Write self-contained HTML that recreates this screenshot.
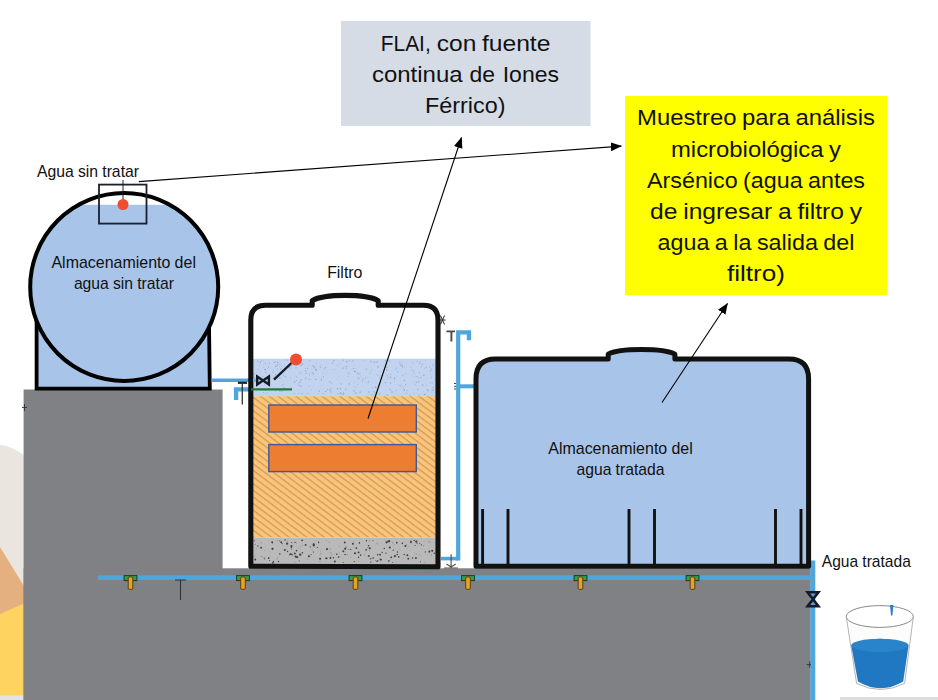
<!DOCTYPE html>
<html><head><meta charset="utf-8"><title>Diagrama</title>
<style>
html,body{margin:0;padding:0;background:#fff;}
body{width:938px;height:700px;overflow:hidden;font-family:"Liberation Sans",sans-serif;}
svg{display:block}
text{font-family:"Liberation Sans",sans-serif;fill:#111;}
</style></head><body>
<svg width="938" height="700" viewBox="0 0 938 700">
<defs>
<pattern id="hatch" width="5.3" height="5.3" patternUnits="userSpaceOnUse" patternTransform="rotate(37)">
<rect width="5.3" height="5.3" fill="#f9c47c"/><rect x="0" y="0" width="5.3" height="1.25" fill="#d39a50"/>
</pattern>
<marker id="ah" viewBox="0 0 10 8" refX="9.5" refY="4" markerWidth="11" markerHeight="9" markerUnits="userSpaceOnUse" orient="auto"><path d="M0,0 L10,4 L0,8 Z" fill="#000"/></marker>
<clipPath id="circ"><circle cx="124.2" cy="287" r="94"/></clipPath>
</defs>
<rect width="938" height="700" fill="#fff"/>

<!-- left decorative shapes -->
<g id="deco">
<path d="M0,444.7 Q12,446.2 24,455.3 L40,470 L40,630 L0,630 Z" fill="#ebe5df"/>
<polygon points="0,547 40,612.2 0,640" fill="#e5b07f"/>
<polygon points="0,614 40,596.4 40,700 0,700" fill="#ffd35f"/>
<rect x="0" y="695.5" width="30" height="5" fill="#e3e3e3"/>
<rect x="840" y="697" width="98" height="3" fill="#dcdcdc"/>
</g>

<!-- grey blocks -->
<g id="grey" fill="#808184">
<rect x="23.6" y="389.5" width="199" height="311"/>
<rect x="23.6" y="568.3" width="787" height="131.7"/>
</g>

<!-- raw water tank -->
<g id="rawtank">
<path d="M36.6,322 L36.6,388.6 L209.8,388.6 L209,322 Z" fill="#a9c4e9" stroke="#000" stroke-width="3.8" stroke-linejoin="miter"/>
<circle cx="124.2" cy="287" r="94" fill="#fff"/>
<rect x="20" y="204.8" width="210" height="200" fill="#a9c4e9" clip-path="url(#circ)"/>
<circle cx="124.2" cy="287" r="94" fill="none" stroke="#000" stroke-width="4"/>
<rect x="99" y="184.6" width="47.5" height="39" fill="none" stroke="#1b1f2e" stroke-width="1.8"/>
<line x1="123" y1="180" x2="123" y2="200" stroke="#222" stroke-width="1"/>
<circle cx="123" cy="204.5" r="5.5" fill="#f04e30"/>
</g>

<!-- pipes -->
<g id="pipes" fill="none" stroke="#4ea6dc">
<path d="M211.5,380.3 L258,380.3" stroke-width="3.4"/>
<path d="M236.1,400 L236.1,389.3 L252,389.3" stroke-width="4.3"/>
<path d="M441,558.6 L458,558.6" stroke-width="3.6"/>
<path d="M458.2,560.4 L458.2,332.3 L468.9,332.3 L468.9,340.3" stroke-width="4.2"/>
<path d="M458.2,386.3 L475,386.3" stroke-width="4"/>
<path d="M98,577.7 L813,577.7" stroke-width="4.8"/>
<path d="M812.8,560.6 L812.8,700" stroke-width="5"/>
</g>

<!-- filter tank -->
<g id="filter">
<rect x="252" y="358.7" width="186" height="38" fill="#c2d3ef"/>
<g fill="#8fa2c4" opacity="0.85"><circle cx="312.9" cy="365.3" r="0.61"/><circle cx="267.2" cy="378.8" r="0.50"/><circle cx="264.6" cy="377.8" r="0.36"/><circle cx="332.9" cy="362.4" r="0.39"/><circle cx="331.3" cy="388.9" r="0.40"/><circle cx="294.6" cy="382.0" r="0.73"/><circle cx="359.0" cy="373.9" r="0.74"/><circle cx="262.5" cy="390.0" r="0.47"/><circle cx="280.3" cy="364.1" r="0.47"/><circle cx="402.5" cy="366.3" r="0.58"/><circle cx="370.3" cy="373.0" r="0.57"/><circle cx="265.4" cy="362.1" r="0.43"/><circle cx="377.8" cy="375.0" r="0.48"/><circle cx="360.6" cy="375.9" r="0.47"/><circle cx="398.6" cy="384.5" r="0.45"/><circle cx="358.5" cy="378.4" r="0.70"/><circle cx="386.8" cy="370.1" r="0.74"/><circle cx="275.5" cy="374.6" r="0.65"/><circle cx="281.7" cy="377.1" r="0.37"/><circle cx="375.6" cy="386.8" r="0.58"/><circle cx="413.3" cy="371.0" r="0.63"/><circle cx="362.2" cy="380.3" r="0.53"/><circle cx="406.9" cy="393.1" r="0.54"/><circle cx="374.9" cy="362.1" r="0.63"/><circle cx="371.8" cy="394.8" r="0.68"/><circle cx="305.8" cy="373.5" r="0.62"/><circle cx="258.1" cy="376.2" r="0.42"/><circle cx="275.3" cy="362.1" r="0.66"/><circle cx="277.5" cy="368.7" r="0.51"/><circle cx="412.6" cy="362.8" r="0.53"/><circle cx="354.0" cy="390.9" r="0.68"/><circle cx="411.2" cy="369.7" r="0.52"/><circle cx="319.3" cy="390.9" r="0.73"/><circle cx="281.5" cy="366.2" r="0.44"/><circle cx="296.5" cy="377.0" r="0.59"/><circle cx="301.8" cy="360.1" r="0.52"/><circle cx="321.2" cy="379.8" r="0.73"/><circle cx="379.7" cy="378.0" r="0.60"/><circle cx="377.1" cy="361.9" r="0.71"/><circle cx="396.0" cy="390.6" r="0.67"/><circle cx="325.4" cy="374.0" r="0.39"/><circle cx="369.4" cy="362.2" r="0.38"/><circle cx="292.0" cy="365.7" r="0.49"/><circle cx="263.6" cy="360.0" r="0.41"/><circle cx="272.5" cy="372.7" r="0.36"/><circle cx="413.1" cy="381.5" r="0.41"/><circle cx="299.9" cy="372.2" r="0.50"/><circle cx="276.4" cy="389.7" r="0.75"/><circle cx="338.8" cy="376.9" r="0.38"/><circle cx="272.6" cy="372.0" r="0.46"/><circle cx="404.9" cy="365.7" r="0.36"/><circle cx="427.1" cy="378.5" r="0.41"/><circle cx="352.9" cy="360.9" r="0.56"/><circle cx="432.1" cy="390.2" r="0.63"/><circle cx="301.5" cy="372.8" r="0.42"/><circle cx="394.5" cy="378.6" r="0.66"/><circle cx="314.0" cy="367.8" r="0.67"/><circle cx="433.3" cy="389.8" r="0.67"/><circle cx="402.9" cy="385.9" r="0.44"/><circle cx="348.2" cy="372.4" r="0.36"/><circle cx="259.1" cy="369.8" r="0.45"/><circle cx="380.0" cy="393.5" r="0.53"/><circle cx="424.5" cy="394.6" r="0.73"/><circle cx="320.4" cy="367.7" r="0.44"/><circle cx="289.8" cy="367.2" r="0.60"/><circle cx="417.9" cy="389.4" r="0.54"/><circle cx="372.8" cy="388.0" r="0.38"/><circle cx="374.2" cy="391.8" r="0.66"/><circle cx="390.5" cy="376.7" r="0.42"/><circle cx="397.6" cy="371.6" r="0.67"/><circle cx="430.8" cy="373.9" r="0.51"/><circle cx="426.3" cy="385.4" r="0.42"/><circle cx="277.1" cy="365.3" r="0.71"/><circle cx="400.8" cy="365.1" r="0.68"/><circle cx="432.4" cy="383.0" r="0.49"/><circle cx="353.9" cy="364.6" r="0.36"/><circle cx="430.7" cy="382.7" r="0.56"/><circle cx="423.9" cy="375.2" r="0.70"/><circle cx="404.4" cy="367.4" r="0.45"/><circle cx="307.3" cy="368.4" r="0.58"/><circle cx="301.2" cy="374.7" r="0.40"/><circle cx="419.6" cy="372.4" r="0.53"/><circle cx="360.2" cy="391.7" r="0.52"/><circle cx="421.0" cy="377.6" r="0.56"/><circle cx="349.3" cy="360.7" r="0.53"/><circle cx="287.3" cy="360.1" r="0.67"/><circle cx="285.4" cy="376.6" r="0.64"/><circle cx="355.3" cy="371.4" r="0.56"/><circle cx="355.1" cy="387.4" r="0.39"/><circle cx="356.0" cy="368.7" r="0.46"/><circle cx="394.6" cy="377.8" r="0.57"/><circle cx="392.3" cy="391.9" r="0.53"/><circle cx="365.5" cy="377.7" r="0.55"/><circle cx="380.1" cy="375.8" r="0.56"/><circle cx="341.0" cy="393.0" r="0.63"/><circle cx="413.5" cy="393.0" r="0.45"/><circle cx="355.8" cy="393.0" r="0.69"/><circle cx="279.0" cy="364.3" r="0.53"/><circle cx="267.2" cy="368.4" r="0.38"/><circle cx="375.8" cy="387.4" r="0.71"/><circle cx="282.1" cy="385.1" r="0.61"/><circle cx="280.0" cy="390.9" r="0.74"/><circle cx="294.0" cy="393.3" r="0.51"/><circle cx="342.7" cy="394.6" r="0.68"/><circle cx="283.4" cy="375.1" r="0.56"/><circle cx="315.7" cy="366.9" r="0.48"/><circle cx="385.4" cy="360.7" r="0.57"/><circle cx="334.2" cy="360.6" r="0.48"/><circle cx="367.6" cy="377.9" r="0.38"/><circle cx="433.3" cy="387.6" r="0.74"/><circle cx="273.1" cy="369.3" r="0.37"/><circle cx="395.8" cy="369.5" r="0.40"/><circle cx="330.9" cy="391.9" r="0.68"/><circle cx="301.1" cy="365.2" r="0.72"/><circle cx="357.8" cy="384.5" r="0.39"/><circle cx="264.5" cy="384.1" r="0.52"/><circle cx="267.2" cy="392.8" r="0.60"/><circle cx="399.9" cy="362.9" r="0.69"/><circle cx="266.1" cy="390.2" r="0.53"/><circle cx="315.7" cy="379.4" r="0.72"/><circle cx="302.8" cy="364.5" r="0.56"/><circle cx="297.4" cy="363.8" r="0.41"/><circle cx="263.2" cy="367.1" r="0.47"/><circle cx="309.5" cy="386.6" r="0.47"/><circle cx="345.0" cy="366.2" r="0.49"/><circle cx="257.3" cy="368.8" r="0.36"/><circle cx="387.4" cy="379.3" r="0.43"/><circle cx="340.4" cy="392.7" r="0.39"/><circle cx="403.0" cy="375.1" r="0.55"/><circle cx="405.9" cy="373.8" r="0.55"/><circle cx="379.2" cy="394.4" r="0.49"/><circle cx="405.5" cy="384.7" r="0.60"/><circle cx="327.7" cy="372.2" r="0.37"/><circle cx="277.6" cy="362.5" r="0.65"/><circle cx="300.5" cy="365.7" r="0.38"/><circle cx="407.1" cy="390.5" r="0.62"/><circle cx="305.3" cy="368.5" r="0.47"/><circle cx="337.6" cy="365.5" r="0.53"/><circle cx="301.9" cy="393.7" r="0.74"/><circle cx="353.6" cy="368.6" r="0.74"/><circle cx="310.3" cy="372.5" r="0.35"/><circle cx="323.5" cy="376.6" r="0.55"/><circle cx="290.6" cy="377.7" r="0.35"/><circle cx="302.1" cy="363.1" r="0.51"/><circle cx="261.6" cy="360.8" r="0.47"/><circle cx="296.4" cy="380.5" r="0.56"/><circle cx="390.6" cy="383.0" r="0.64"/><circle cx="414.0" cy="373.6" r="0.48"/><circle cx="433.2" cy="365.2" r="0.64"/><circle cx="371.1" cy="361.5" r="0.68"/><circle cx="416.3" cy="382.0" r="0.64"/><circle cx="401.8" cy="364.9" r="0.56"/><circle cx="345.8" cy="389.2" r="0.67"/><circle cx="404.4" cy="380.4" r="0.71"/><circle cx="378.3" cy="384.3" r="0.44"/><circle cx="259.7" cy="364.7" r="0.49"/><circle cx="273.1" cy="389.3" r="0.57"/><circle cx="368.3" cy="381.9" r="0.62"/><circle cx="343.1" cy="360.1" r="0.67"/><circle cx="390.2" cy="377.6" r="0.56"/><circle cx="374.0" cy="362.3" r="0.64"/><circle cx="299.9" cy="362.6" r="0.46"/><circle cx="386.7" cy="367.2" r="0.65"/><circle cx="431.6" cy="377.3" r="0.50"/><circle cx="341.2" cy="383.9" r="0.66"/><circle cx="366.3" cy="382.5" r="0.38"/><circle cx="280.8" cy="368.9" r="0.65"/><circle cx="309.4" cy="379.9" r="0.35"/><circle cx="265.0" cy="369.4" r="0.62"/><circle cx="380.0" cy="383.6" r="0.47"/><circle cx="348.0" cy="376.3" r="0.54"/><circle cx="275.6" cy="391.3" r="0.43"/><circle cx="432.0" cy="392.8" r="0.36"/><circle cx="337.5" cy="388.7" r="0.74"/><circle cx="335.8" cy="369.4" r="0.43"/><circle cx="426.1" cy="367.4" r="0.58"/><circle cx="279.8" cy="378.3" r="0.73"/><circle cx="278.1" cy="388.7" r="0.55"/><circle cx="415.4" cy="384.6" r="0.44"/><circle cx="417.4" cy="377.0" r="0.36"/><circle cx="254.7" cy="377.2" r="0.53"/><circle cx="309.0" cy="364.9" r="0.49"/><circle cx="311.5" cy="389.4" r="0.35"/><circle cx="390.6" cy="389.4" r="0.40"/><circle cx="422.6" cy="385.0" r="0.71"/><circle cx="306.7" cy="373.0" r="0.51"/><circle cx="435.8" cy="380.6" r="0.49"/><circle cx="331.9" cy="369.6" r="0.37"/><circle cx="272.5" cy="389.2" r="0.46"/><circle cx="424.3" cy="368.7" r="0.46"/><circle cx="347.0" cy="366.6" r="0.50"/><circle cx="428.0" cy="390.9" r="0.67"/><circle cx="368.8" cy="392.0" r="0.73"/><circle cx="354.0" cy="385.2" r="0.37"/><circle cx="387.3" cy="375.8" r="0.65"/><circle cx="371.3" cy="370.0" r="0.37"/><circle cx="422.7" cy="364.5" r="0.54"/><circle cx="316.5" cy="370.4" r="0.65"/><circle cx="431.7" cy="369.1" r="0.61"/><circle cx="308.8" cy="379.5" r="0.51"/><circle cx="284.5" cy="365.7" r="0.43"/><circle cx="418.9" cy="377.4" r="0.44"/><circle cx="418.9" cy="394.9" r="0.53"/><circle cx="279.4" cy="366.7" r="0.39"/><circle cx="316.2" cy="363.2" r="0.45"/><circle cx="301.0" cy="379.9" r="0.70"/><circle cx="390.4" cy="374.4" r="0.52"/><circle cx="349.4" cy="373.2" r="0.49"/><circle cx="265.3" cy="369.7" r="0.74"/><circle cx="276.9" cy="377.6" r="0.60"/><circle cx="411.0" cy="367.6" r="0.46"/><circle cx="299.2" cy="374.0" r="0.53"/><circle cx="427.6" cy="389.7" r="0.70"/><circle cx="258.0" cy="361.1" r="0.63"/><circle cx="417.0" cy="376.6" r="0.58"/><circle cx="254.0" cy="373.7" r="0.72"/><circle cx="404.3" cy="389.9" r="0.74"/><circle cx="299.2" cy="363.8" r="0.41"/><circle cx="349.1" cy="383.9" r="0.73"/><circle cx="385.4" cy="382.7" r="0.66"/><circle cx="337.2" cy="379.3" r="0.37"/><circle cx="396.4" cy="368.1" r="0.72"/><circle cx="371.5" cy="370.6" r="0.40"/><circle cx="299.8" cy="382.3" r="0.63"/><circle cx="274.4" cy="362.5" r="0.56"/><circle cx="360.1" cy="373.6" r="0.44"/><circle cx="363.4" cy="360.4" r="0.47"/><circle cx="337.8" cy="393.6" r="0.61"/><circle cx="414.8" cy="376.6" r="0.44"/><circle cx="299.0" cy="393.6" r="0.63"/><circle cx="309.9" cy="360.8" r="0.55"/><circle cx="376.8" cy="374.7" r="0.45"/><circle cx="375.5" cy="392.4" r="0.44"/><circle cx="260.2" cy="371.8" r="0.52"/><circle cx="378.2" cy="366.9" r="0.67"/><circle cx="388.5" cy="377.7" r="0.43"/><circle cx="430.5" cy="370.9" r="0.68"/><circle cx="296.0" cy="367.8" r="0.65"/><circle cx="307.7" cy="393.3" r="0.55"/><circle cx="288.1" cy="367.8" r="0.52"/><circle cx="375.1" cy="393.2" r="0.41"/><circle cx="325.6" cy="367.5" r="0.74"/><circle cx="279.8" cy="361.8" r="0.37"/><circle cx="325.6" cy="391.4" r="0.70"/><circle cx="387.4" cy="394.9" r="0.72"/><circle cx="313.9" cy="366.5" r="0.72"/><circle cx="389.8" cy="361.1" r="0.62"/><circle cx="322.9" cy="373.1" r="0.48"/><circle cx="284.8" cy="360.1" r="0.46"/><circle cx="318.0" cy="393.4" r="0.40"/><circle cx="429.5" cy="367.3" r="0.49"/><circle cx="403.5" cy="388.8" r="0.52"/><circle cx="263.0" cy="376.6" r="0.50"/><circle cx="421.4" cy="366.8" r="0.50"/><circle cx="417.3" cy="361.1" r="0.51"/><circle cx="401.8" cy="386.8" r="0.37"/><circle cx="260.3" cy="362.2" r="0.72"/><circle cx="300.8" cy="386.2" r="0.71"/><circle cx="315.7" cy="369.5" r="0.73"/><circle cx="366.3" cy="369.2" r="0.64"/><circle cx="311.6" cy="369.6" r="0.35"/><circle cx="391.5" cy="392.1" r="0.60"/><circle cx="425.7" cy="360.8" r="0.44"/><circle cx="340.5" cy="393.5" r="0.73"/><circle cx="324.3" cy="368.8" r="0.52"/><circle cx="343.8" cy="392.5" r="0.42"/><circle cx="400.1" cy="385.8" r="0.68"/><circle cx="394.7" cy="381.3" r="0.48"/><circle cx="312.2" cy="372.7" r="0.66"/><circle cx="268.4" cy="366.9" r="0.65"/><circle cx="299.0" cy="362.3" r="0.36"/><circle cx="354.6" cy="371.4" r="0.74"/><circle cx="414.8" cy="394.6" r="0.46"/><circle cx="269.3" cy="363.4" r="0.55"/><circle cx="383.2" cy="375.6" r="0.44"/><circle cx="329.9" cy="381.7" r="0.62"/><circle cx="390.1" cy="389.6" r="0.62"/><circle cx="276.1" cy="389.4" r="0.47"/><circle cx="357.2" cy="373.1" r="0.65"/><circle cx="290.3" cy="368.7" r="0.45"/><circle cx="281.9" cy="390.9" r="0.58"/><circle cx="313.4" cy="373.9" r="0.75"/><circle cx="346.3" cy="368.1" r="0.67"/><circle cx="372.9" cy="394.7" r="0.39"/><circle cx="340.4" cy="388.7" r="0.69"/><circle cx="420.4" cy="361.4" r="0.47"/><circle cx="275.7" cy="366.6" r="0.74"/><circle cx="360.1" cy="392.6" r="0.50"/><circle cx="411.6" cy="375.7" r="0.45"/><circle cx="395.6" cy="393.1" r="0.39"/><circle cx="362.5" cy="381.7" r="0.44"/><circle cx="321.1" cy="364.9" r="0.43"/><circle cx="300.4" cy="381.0" r="0.61"/><circle cx="291.0" cy="360.4" r="0.48"/><circle cx="377.5" cy="366.5" r="0.47"/><circle cx="291.0" cy="387.8" r="0.57"/><circle cx="265.5" cy="363.5" r="0.51"/><circle cx="354.1" cy="382.4" r="0.39"/><circle cx="283.8" cy="384.3" r="0.51"/><circle cx="305.6" cy="370.8" r="0.73"/><circle cx="310.8" cy="379.8" r="0.49"/><circle cx="329.8" cy="390.2" r="0.75"/><circle cx="320.2" cy="366.9" r="0.64"/><circle cx="291.1" cy="360.2" r="0.71"/><circle cx="331.1" cy="388.7" r="0.51"/><circle cx="414.7" cy="376.1" r="0.42"/><circle cx="256.7" cy="379.3" r="0.61"/><circle cx="419.6" cy="363.1" r="0.60"/><circle cx="321.5" cy="377.7" r="0.41"/><circle cx="305.6" cy="378.2" r="0.72"/><circle cx="273.8" cy="377.2" r="0.67"/><circle cx="430.0" cy="366.9" r="0.40"/><circle cx="425.6" cy="394.1" r="0.54"/><circle cx="263.7" cy="392.4" r="0.51"/><circle cx="418.6" cy="381.7" r="0.68"/><circle cx="283.2" cy="387.5" r="0.44"/><circle cx="327.6" cy="389.6" r="0.68"/><circle cx="287.3" cy="367.6" r="0.51"/><circle cx="348.3" cy="373.4" r="0.40"/><circle cx="299.0" cy="385.4" r="0.71"/><circle cx="261.5" cy="379.7" r="0.65"/><circle cx="260.9" cy="389.3" r="0.40"/><circle cx="363.1" cy="379.3" r="0.60"/><circle cx="309.7" cy="374.7" r="0.58"/><circle cx="331.5" cy="383.1" r="0.53"/><circle cx="333.8" cy="360.8" r="0.60"/><circle cx="343.1" cy="368.2" r="0.66"/><circle cx="396.0" cy="376.0" r="0.42"/><circle cx="340.1" cy="363.7" r="0.40"/><circle cx="332.4" cy="363.2" r="0.53"/><circle cx="346.8" cy="361.4" r="0.60"/><circle cx="269.0" cy="385.7" r="0.66"/><circle cx="347.1" cy="361.9" r="0.55"/><circle cx="322.8" cy="393.3" r="0.40"/><circle cx="410.0" cy="394.9" r="0.64"/><circle cx="402.3" cy="366.8" r="0.74"/><circle cx="343.5" cy="393.5" r="0.72"/><circle cx="284.1" cy="387.6" r="0.72"/><circle cx="265.9" cy="372.3" r="0.65"/><circle cx="282.9" cy="391.4" r="0.46"/></g>
<rect x="252" y="396.3" width="186" height="141.2" fill="url(#hatch)"/>
<rect x="252" y="537.5" width="186" height="28" fill="#b9b9b9"/>
<g fill="#2c2c2c" opacity="0.85"><circle cx="402.4" cy="543.3" r="0.83"/><circle cx="421.4" cy="544.8" r="0.67"/><circle cx="346.1" cy="547.3" r="0.52"/><circle cx="287.1" cy="543.7" r="1.11"/><circle cx="377.7" cy="560.6" r="0.61"/><circle cx="396.8" cy="542.6" r="0.84"/><circle cx="369.8" cy="548.3" r="1.07"/><circle cx="355.0" cy="553.3" r="1.07"/><circle cx="273.0" cy="562.8" r="0.91"/><circle cx="325.8" cy="558.3" r="0.67"/><circle cx="434.3" cy="553.3" r="0.73"/><circle cx="393.2" cy="550.2" r="0.61"/><circle cx="389.3" cy="541.1" r="1.03"/><circle cx="300.2" cy="554.7" r="1.14"/><circle cx="360.6" cy="555.3" r="0.70"/><circle cx="254.3" cy="540.8" r="0.60"/><circle cx="366.1" cy="549.9" r="0.83"/><circle cx="417.0" cy="543.0" r="0.65"/><circle cx="372.9" cy="540.5" r="0.50"/><circle cx="318.6" cy="542.4" r="0.73"/><circle cx="294.8" cy="553.4" r="0.88"/><circle cx="291.2" cy="554.4" r="0.81"/><circle cx="278.5" cy="561.5" r="0.66"/><circle cx="281.2" cy="542.2" r="0.91"/><circle cx="412.6" cy="558.0" r="0.76"/><circle cx="302.1" cy="540.3" r="0.92"/><circle cx="356.3" cy="548.1" r="0.92"/><circle cx="334.8" cy="561.6" r="0.98"/><circle cx="299.2" cy="560.8" r="0.53"/><circle cx="350.7" cy="549.3" r="0.65"/><circle cx="264.6" cy="557.9" r="0.51"/><circle cx="354.3" cy="561.6" r="0.59"/><circle cx="290.3" cy="554.0" r="0.83"/><circle cx="370.8" cy="558.7" r="0.61"/><circle cx="310.3" cy="546.9" r="0.53"/><circle cx="415.9" cy="558.0" r="0.97"/><circle cx="255.2" cy="559.4" r="0.98"/><circle cx="338.7" cy="557.1" r="0.79"/><circle cx="295.1" cy="542.4" r="0.65"/><circle cx="261.1" cy="547.7" r="0.99"/><circle cx="380.5" cy="559.4" r="0.96"/><circle cx="302.4" cy="552.7" r="0.78"/><circle cx="397.5" cy="552.0" r="0.67"/><circle cx="370.8" cy="562.2" r="0.64"/><circle cx="414.2" cy="540.4" r="0.67"/><circle cx="297.0" cy="557.1" r="1.11"/><circle cx="389.8" cy="547.5" r="1.07"/><circle cx="313.8" cy="545.5" r="1.09"/><circle cx="368.8" cy="555.9" r="0.93"/><circle cx="432.2" cy="550.8" r="1.05"/><circle cx="381.0" cy="559.7" r="0.78"/><circle cx="385.9" cy="553.1" r="0.70"/><circle cx="292.6" cy="554.3" r="0.55"/><circle cx="419.8" cy="543.3" r="0.52"/><circle cx="273.4" cy="561.4" r="0.72"/><circle cx="279.8" cy="540.7" r="0.53"/><circle cx="380.1" cy="554.6" r="0.95"/><circle cx="388.1" cy="541.5" r="0.88"/><circle cx="320.1" cy="558.8" r="1.03"/><circle cx="416.2" cy="541.5" r="1.06"/><circle cx="420.4" cy="561.7" r="0.57"/><circle cx="291.4" cy="542.6" r="0.52"/><circle cx="408.3" cy="558.7" r="0.91"/><circle cx="404.2" cy="554.5" r="0.69"/><circle cx="272.2" cy="542.3" r="0.99"/><circle cx="291.3" cy="547.3" r="0.78"/><circle cx="257.8" cy="545.9" r="0.68"/><circle cx="384.3" cy="548.5" r="0.71"/><circle cx="429.4" cy="551.6" r="1.05"/><circle cx="366.5" cy="540.7" r="0.77"/><circle cx="333.4" cy="557.8" r="0.73"/><circle cx="382.2" cy="552.4" r="0.64"/><circle cx="410.9" cy="542.1" r="1.03"/><circle cx="285.0" cy="540.0" r="0.63"/><circle cx="392.7" cy="562.5" r="0.50"/><circle cx="343.3" cy="551.3" r="1.02"/><circle cx="287.6" cy="551.4" r="0.73"/><circle cx="405.4" cy="546.0" r="1.11"/><circle cx="305.6" cy="544.9" r="0.95"/><circle cx="344.7" cy="542.5" r="0.91"/><circle cx="268.7" cy="558.1" r="0.95"/><circle cx="397.2" cy="554.4" r="0.73"/><circle cx="327.0" cy="549.1" r="1.08"/><circle cx="269.7" cy="560.4" r="0.52"/><circle cx="291.5" cy="546.1" r="1.09"/><circle cx="345.2" cy="548.7" r="1.07"/><circle cx="296.5" cy="550.6" r="0.85"/><circle cx="391.3" cy="557.3" r="0.92"/><circle cx="317.4" cy="547.5" r="0.60"/><circle cx="407.4" cy="555.2" r="0.98"/><circle cx="284.9" cy="550.1" r="1.00"/><circle cx="359.4" cy="542.9" r="0.80"/><circle cx="415.1" cy="545.5" r="0.62"/><circle cx="308.9" cy="556.2" r="1.05"/><circle cx="282.1" cy="543.6" r="0.66"/><circle cx="313.4" cy="552.0" r="0.60"/><circle cx="313.7" cy="544.4" r="1.13"/><circle cx="386.6" cy="542.3" r="1.13"/><circle cx="272.5" cy="548.8" r="1.14"/><circle cx="398.7" cy="556.9" r="0.78"/><circle cx="289.7" cy="554.7" r="0.57"/><circle cx="291.6" cy="548.9" r="0.52"/><circle cx="326.6" cy="558.2" r="0.95"/><circle cx="345.1" cy="554.5" r="0.80"/><circle cx="279.8" cy="553.9" r="0.76"/><circle cx="388.9" cy="560.9" r="0.78"/><circle cx="358.5" cy="557.2" r="0.77"/><circle cx="295.6" cy="556.6" r="1.07"/><circle cx="394.9" cy="556.1" r="1.05"/><circle cx="377.7" cy="554.8" r="0.80"/><circle cx="311.0" cy="554.5" r="0.56"/><circle cx="330.4" cy="558.0" r="0.96"/><circle cx="368.6" cy="545.8" r="0.78"/><circle cx="336.8" cy="554.3" r="0.77"/><circle cx="376.9" cy="561.4" r="0.62"/><circle cx="373.1" cy="557.9" r="0.75"/><circle cx="343.2" cy="562.4" r="0.52"/><circle cx="352.9" cy="543.7" r="1.01"/><circle cx="425.2" cy="551.9" r="0.57"/><circle cx="358.6" cy="552.4" r="0.97"/></g><g fill="#555" opacity="0.7"><circle cx="347.2" cy="554.7" r="0.51"/><circle cx="348.9" cy="549.4" r="0.54"/><circle cx="292.2" cy="555.7" r="0.40"/><circle cx="392.8" cy="542.8" r="0.55"/><circle cx="318.7" cy="541.3" r="0.37"/><circle cx="326.7" cy="540.3" r="0.40"/><circle cx="330.5" cy="556.1" r="0.39"/><circle cx="302.3" cy="545.2" r="0.49"/><circle cx="425.1" cy="552.1" r="0.35"/><circle cx="399.9" cy="549.0" r="0.35"/><circle cx="277.5" cy="557.9" r="0.50"/><circle cx="369.4" cy="550.8" r="0.44"/><circle cx="295.1" cy="562.2" r="0.39"/><circle cx="370.3" cy="558.8" r="0.50"/><circle cx="339.2" cy="546.8" r="0.44"/><circle cx="276.8" cy="559.2" r="0.39"/><circle cx="408.8" cy="546.2" r="0.39"/><circle cx="300.1" cy="549.8" r="0.35"/><circle cx="254.5" cy="556.6" r="0.37"/><circle cx="298.6" cy="546.9" r="0.42"/><circle cx="332.0" cy="554.7" r="0.46"/><circle cx="320.0" cy="561.4" r="0.51"/><circle cx="264.4" cy="559.0" r="0.53"/><circle cx="396.7" cy="543.2" r="0.51"/><circle cx="369.2" cy="540.3" r="0.30"/><circle cx="427.2" cy="555.1" r="0.36"/><circle cx="272.5" cy="543.3" r="0.36"/><circle cx="395.3" cy="548.0" r="0.34"/><circle cx="418.5" cy="558.2" r="0.34"/><circle cx="416.2" cy="554.0" r="0.50"/><circle cx="375.7" cy="560.6" r="0.50"/><circle cx="406.7" cy="544.5" r="0.47"/><circle cx="350.6" cy="557.1" r="0.41"/><circle cx="414.6" cy="552.8" r="0.37"/><circle cx="296.6" cy="543.2" r="0.42"/><circle cx="264.6" cy="550.7" r="0.34"/><circle cx="343.4" cy="551.5" r="0.43"/><circle cx="411.0" cy="540.2" r="0.51"/><circle cx="339.2" cy="552.9" r="0.47"/><circle cx="407.0" cy="548.6" r="0.40"/><circle cx="428.8" cy="541.7" r="0.46"/><circle cx="369.8" cy="540.7" r="0.45"/><circle cx="378.2" cy="561.4" r="0.38"/><circle cx="432.7" cy="551.7" r="0.42"/><circle cx="417.4" cy="540.8" r="0.48"/><circle cx="367.8" cy="547.8" r="0.52"/><circle cx="320.6" cy="550.9" r="0.43"/><circle cx="394.2" cy="544.8" r="0.41"/><circle cx="330.9" cy="552.7" r="0.51"/><circle cx="307.3" cy="559.0" r="0.40"/><circle cx="345.7" cy="546.2" r="0.43"/><circle cx="431.4" cy="555.1" r="0.50"/><circle cx="314.2" cy="547.3" r="0.37"/><circle cx="360.7" cy="554.6" r="0.50"/><circle cx="261.3" cy="556.6" r="0.52"/><circle cx="353.3" cy="541.1" r="0.38"/><circle cx="255.1" cy="544.4" r="0.53"/><circle cx="364.8" cy="555.1" r="0.50"/><circle cx="419.6" cy="554.1" r="0.45"/><circle cx="368.1" cy="556.0" r="0.45"/><circle cx="377.9" cy="544.9" r="0.47"/><circle cx="337.3" cy="557.5" r="0.33"/><circle cx="287.0" cy="540.9" r="0.49"/><circle cx="420.4" cy="555.1" r="0.39"/><circle cx="403.7" cy="558.1" r="0.44"/><circle cx="301.0" cy="546.9" r="0.41"/><circle cx="312.0" cy="549.9" r="0.46"/><circle cx="424.0" cy="541.3" r="0.44"/><circle cx="261.2" cy="542.7" r="0.50"/><circle cx="358.7" cy="561.1" r="0.41"/><circle cx="256.6" cy="548.9" r="0.45"/><circle cx="424.7" cy="562.6" r="0.42"/><circle cx="329.1" cy="542.3" r="0.46"/><circle cx="292.6" cy="543.5" r="0.30"/><circle cx="254.9" cy="555.7" r="0.33"/><circle cx="429.9" cy="542.0" r="0.52"/><circle cx="277.5" cy="540.4" r="0.48"/><circle cx="298.1" cy="556.9" r="0.35"/><circle cx="263.1" cy="557.8" r="0.48"/><circle cx="409.7" cy="556.8" r="0.32"/><circle cx="368.4" cy="556.3" r="0.42"/><circle cx="423.7" cy="545.8" r="0.54"/><circle cx="384.5" cy="540.3" r="0.30"/><circle cx="372.4" cy="558.8" r="0.32"/><circle cx="310.6" cy="556.8" r="0.34"/><circle cx="410.7" cy="551.2" r="0.31"/><circle cx="320.9" cy="553.2" r="0.41"/><circle cx="377.2" cy="543.3" r="0.50"/><circle cx="320.1" cy="554.8" r="0.46"/><circle cx="330.1" cy="548.9" r="0.50"/></g>
<rect x="268.8" y="405" width="147.5" height="27" fill="#ed7d31" stroke="#3c5a99" stroke-width="1.4"/>
<rect x="268.8" y="444.6" width="147.5" height="27" fill="#ed7d31" stroke="#3c5a99" stroke-width="1.4"/>
<path d="M250.8,566.2 L250.8,320 Q250.8,305.3 265.5,305.3 L312.2,305.3 L312.2,300.6 C318,297.2 330,295.4 345.2,295.4 C360.4,295.4 372.4,297.2 378.2,300.6 L378.2,305.3 L423.5,305.3 Q438,305.3 438,320 L438,566.7 Z" fill="none" stroke="#111" stroke-width="5.1" stroke-linejoin="round"/>
<line x1="253" y1="380.3" x2="257" y2="380.3" stroke="#6fb4e3" stroke-width="3.4"/>
<line x1="251" y1="389.3" x2="292" y2="389.3" stroke="#1f7a3a" stroke-width="2.3"/>
<path d="M257.2,376.6 L257.2,384.4 L268.9,376.6 L268.9,384.4 Z" fill="#b4c8e2" stroke="#151c28" stroke-width="2.4" stroke-linejoin="miter"/>
<line x1="274" y1="379.7" x2="291.5" y2="363" stroke="#151c28" stroke-width="2.4"/>
<circle cx="296" cy="359.6" r="6" fill="#f04e30"/>
</g>

<!-- small symbols -->
<g id="sym" stroke="#333" fill="none" stroke-width="1.2">
<path d="M237.9,382.8 L247.1,382.8" stroke="#222" stroke-width="2.2"/><path d="M242.3,382.8 L242.3,404.6" stroke-width="1.3"/>
<path d="M446.4,331.4 L455,331.4 M451.4,331.4 L451.4,341.6" stroke="#4a4a4a" stroke-width="1.9"/>
<path d="M440.5,315.5 L444.5,324.5 M444.5,315.5 L440.5,324.5 M440,320 L445.5,320" stroke="#222" stroke-width="1"/>
<path d="M454,383.5 L456,383.5 M454,386.3 L456,386.3 M454,389 L456,389" stroke="#444" stroke-width="1"/>
<path d="M451.1,554.3 L451.1,567 M446.5,564 L451.1,567 L455.7,564 M444,568 L458,568" stroke="#555" stroke-width="1.2"/>
<path d="M175,580 L186,580 M180.5,580 L180.5,600" stroke="#333" stroke-width="1.1"/>
<path d="M22,407.5 L27,407.5 M24.5,404 L24.5,411" stroke="#333" stroke-width="0.9"/>
<path d="M806.5,664.6 L811,664.6 M809.7,661.5 L809.7,667.7" stroke="#333" stroke-width="0.9"/>
</g>

<!-- treated tank -->
<g id="treated">
<path d="M476,566.2 L476,379 Q476,359.1 495.5,359.1 L608.2,359.1 L608.2,354.2 C614,351 627,349.6 641.5,349.6 C656,349.6 669,351 674.9,354.2 L674.9,359.1 L789,359.1 Q808.6,359.1 808.6,379 L808.6,566.2 Z" fill="#a9c4e9" stroke="#111" stroke-width="5" stroke-linejoin="round"/>
<g stroke="#111" stroke-width="2.9">
<line x1="482.6" y1="509" x2="482.6" y2="565"/><line x1="508" y1="509" x2="508" y2="565"/>
<line x1="629" y1="509" x2="629" y2="565"/><line x1="654.5" y1="509" x2="654.5" y2="565"/>
<line x1="775.5" y1="509" x2="775.5" y2="565"/><line x1="801" y1="509" x2="801" y2="565"/>
</g>
</g>

<!-- tees -->
<g><rect x="124.1" y="575.6" width="12.8" height="5" fill="#3d9a4a" stroke="#1d3b22" stroke-width="1"/><rect x="128.2" y="577" width="4.6" height="12.3" rx="1" fill="#eba21f" stroke="#5a3d10" stroke-width="1"/></g><g><rect x="236.6" y="575.6" width="12.8" height="5" fill="#3d9a4a" stroke="#1d3b22" stroke-width="1"/><rect x="240.7" y="577" width="4.6" height="12.3" rx="1" fill="#eba21f" stroke="#5a3d10" stroke-width="1"/></g><g><rect x="349.1" y="575.6" width="12.8" height="5" fill="#3d9a4a" stroke="#1d3b22" stroke-width="1"/><rect x="353.2" y="577" width="4.6" height="12.3" rx="1" fill="#eba21f" stroke="#5a3d10" stroke-width="1"/></g><g><rect x="461.6" y="575.6" width="12.8" height="5" fill="#3d9a4a" stroke="#1d3b22" stroke-width="1"/><rect x="465.7" y="577" width="4.6" height="12.3" rx="1" fill="#eba21f" stroke="#5a3d10" stroke-width="1"/></g><g><rect x="574.1" y="575.6" width="12.8" height="5" fill="#3d9a4a" stroke="#1d3b22" stroke-width="1"/><rect x="578.2" y="577" width="4.6" height="12.3" rx="1" fill="#eba21f" stroke="#5a3d10" stroke-width="1"/></g><g><rect x="686.1" y="575.6" width="12.8" height="5" fill="#3d9a4a" stroke="#1d3b22" stroke-width="1"/><rect x="690.2" y="577" width="4.6" height="12.3" rx="1" fill="#eba21f" stroke="#5a3d10" stroke-width="1"/></g>

<!-- outlet valve -->
<path d="M807.6,592.2 L818.4,592.2 L807.6,606.2 L818.4,606.2 Z" fill="#5b9bd0" stroke="#151c28" stroke-width="2.6" stroke-linejoin="miter"/>

<!-- cup -->
<g id="cup">
<path d="M846.3,617 L856.6,683.5 Q880.5,695.5 904.6,683.5 L913.3,617" fill="#fcfcfc" stroke="#b5b5b5" stroke-width="1"/>
<path d="M851.3,646 Q880,631.5 908.5,646 L903.2,681.5 Q880.5,695 858,681.5 Z" fill="#1f78c1"/>
<ellipse cx="879.9" cy="645.3" rx="28.6" ry="6.6" fill="#2a84cc"/>
<ellipse cx="879.8" cy="616.5" rx="33.5" ry="10.9" fill="#fff" stroke="#8a8a8a" stroke-width="1"/>
<path d="M890,605 L893.4,605 L892.4,615.5 L891,615.5 Z" fill="#2a7fc6"/>
</g>

<!-- boxes -->
<rect x="341" y="21" width="249.5" height="105" fill="#d6dce5"/>
<rect x="625" y="96" width="262" height="199" fill="#ffff00"/>

<!-- arrows -->
<g stroke="#000" stroke-width="1.1" fill="none">
<line x1="138.8" y1="181.6" x2="621.3" y2="146.1" marker-end="url(#ah)"/>
<line x1="368" y1="418.5" x2="461.5" y2="137.5" marker-end="url(#ah)"/>
<line x1="662" y1="402.5" x2="727.5" y2="303.5" marker-end="url(#ah)"/>
</g>

<!-- text -->
<g id="txt" text-anchor="middle" style="word-spacing:-0.2px">
<text x="88" y="177.3" font-size="16.1" textLength="102" lengthAdjust="spacingAndGlyphs">Agua sin tratar</text>
<text x="123.7" y="268" font-size="16.1" textLength="144.5" lengthAdjust="spacingAndGlyphs">Almacenamiento del</text>
<text x="123.9" y="288.8" font-size="16.1" textLength="100" lengthAdjust="spacingAndGlyphs">agua sin tratar</text>
<text x="344.8" y="278.3" font-size="16.1" textLength="35.3" lengthAdjust="spacingAndGlyphs">Filtro</text>
<text x="620.5" y="454.1" font-size="16.1" textLength="144.5" lengthAdjust="spacingAndGlyphs">Almacenamiento del</text>
<text x="620.5" y="475.1" font-size="16.1" textLength="88" lengthAdjust="spacingAndGlyphs">agua tratada</text>
<text x="866.3" y="567" font-size="16.1" textLength="89" lengthAdjust="spacingAndGlyphs">Agua tratada</text>
<g font-size="22.8" style="word-spacing:-1px">
<text x="380.8" y="51.3" text-anchor="start" textLength="49.9" lengthAdjust="spacingAndGlyphs">FLAI,</text>
<text x="436.8" y="51.3" text-anchor="start" textLength="39.6" lengthAdjust="spacingAndGlyphs">con</text>
<text x="481.9" y="51.3" text-anchor="start" textLength="68.5" lengthAdjust="spacingAndGlyphs">fuente</text>
<text x="371.9" y="81.8" text-anchor="start" textLength="90.7" lengthAdjust="spacingAndGlyphs">continua</text>
<text x="469.5" y="81.8" text-anchor="start" textLength="25.5" lengthAdjust="spacingAndGlyphs">de</text>
<text x="502.7" y="81.8" text-anchor="start" textLength="56.3" lengthAdjust="spacingAndGlyphs">Iones</text>
<text x="425.1" y="113" text-anchor="start" textLength="80.4" lengthAdjust="spacingAndGlyphs">Férrico)</text>
<text x="756" y="125.4" textLength="238" lengthAdjust="spacingAndGlyphs">Muestreo para análisis</text>
<text x="756" y="156.9" textLength="170" lengthAdjust="spacingAndGlyphs">microbiológica y</text>
<text x="756" y="187.9" textLength="218" lengthAdjust="spacingAndGlyphs">Arsénico (agua antes</text>
<text x="756" y="218.9" textLength="212" lengthAdjust="spacingAndGlyphs">de ingresar a filtro y</text>
<text x="756" y="249.9" textLength="197" lengthAdjust="spacingAndGlyphs">agua a la salida del</text>
<text x="756" y="280.9" textLength="58" lengthAdjust="spacingAndGlyphs">filtro)</text>
</g>
</g>
</svg>
</body></html>
